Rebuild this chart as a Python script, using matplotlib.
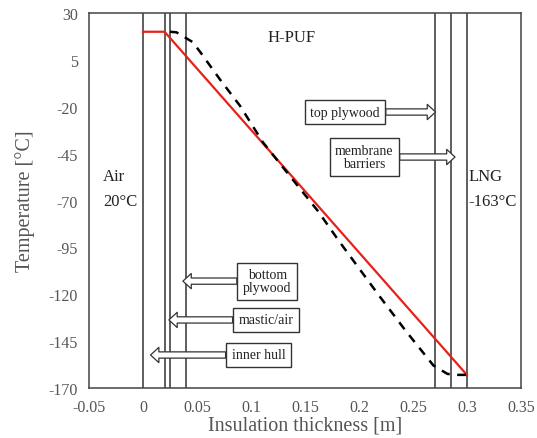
import matplotlib.pyplot as plt

plt.rcParams['font.family'] = ['Liberation Serif', 'DejaVu Serif']
plt.rcParams['axes.unicode_minus'] = False

# layer boundaries [m]
layer_x = [0.0, 0.02, 0.025, 0.04, 0.27, 0.285, 0.30]

# analytic (red) profile
red_x = [0.0, 0.02, 0.30]
red_t = [20, 20, -163]

# measured / simulated (dashed) profile
dash_x = [0.025, 0.031, 0.046, 0.053, 0.071, 0.090, 0.111, 0.136, 0.162,
          0.182, 0.219, 0.244, 0.269, 0.282, 0.292, 0.30]
dash_t = [20, 19.7, 14.5, 9.2, -5.2, -19.6, -38.9, -56.9, -75.6,
          -92, -121, -140, -158, -162.5, -163, -163]

yticks = [30, 5, -20, -45, -70, -95, -120, -145, -170]
xticks = [-0.05, 0, 0.05, 0.1, 0.15, 0.2, 0.25, 0.3, 0.35]

# label text, text position, arrow tip
labels = [
    ("top plywood", (0.187, -22.8), (0.271, -22.8)),
    ("membrane\nbarriers", (0.205, -46.8), (0.289, -46.8)),
    ("bottom\nplywood", (0.115, -113), (0.037, -113)),
    ("mastic/air", (0.114, -133.7), (0.024, -133.7)),
    ("inner hull", (0.107, -152.4), (0.007, -152.4)),
]

fig = plt.figure(figsize=(5.37, 4.39), dpi=100)
ax = fig.add_axes([0.1657, 0.1139, 0.8043, 0.8542])

for xv in layer_x:
    ax.axvline(xv, color='#333333', lw=1.1)

ax.plot(red_x, red_t, color='#e8201a', lw=1.6)
ax.plot(dash_x, dash_t, color='black', lw=1.8, ls=(0, (3.5, 3)))

for txt, pos, tip in labels:
    ax.annotate(txt, xy=tip, xytext=pos, ha='center', va='center', fontsize=10,
                color='#222222', linespacing=1.0,
                bbox=dict(boxstyle='square,pad=0.4', fc='white', ec='#333333', lw=1),
                arrowprops=dict(arrowstyle='simple,head_width=1.1,head_length=0.6,tail_width=0.45',
                                fc='white', ec='#333333', lw=0.9, shrinkA=0, shrinkB=0))

ax.text(0.138, 17, 'H-PUF', ha='center', va='center', fontsize=12, color='#222222')
ax.text(-0.037, -57, 'Air', ha='left', va='center', fontsize=12, color='#222222')
ax.text(-0.037, -70, '20°C', ha='left', va='center', fontsize=12, color='#222222')
ax.text(0.3015, -57, 'LNG', ha='left', va='center', fontsize=12, color='#222222')
ax.text(0.3015, -70, '-163°C', ha='left', va='center', fontsize=12, color='#222222')

ax.set_xlim(-0.05, 0.35)
ax.set_ylim(-170, 30)
ax.set_xticks(xticks)
ax.set_xticklabels(['-0.05', '0', '0.05', '0.1', '0.15', '0.2', '0.25', '0.3', '0.35'])
ax.set_yticks(yticks)
ax.tick_params(length=0, labelsize=11.5, labelcolor='#555555', pad=8)
for s in ax.spines.values():
    s.set_color('#444444')
    s.set_linewidth(1.1)

ax.set_xlabel('Insulation thickness [m]', fontsize=14.5, color='#555555', labelpad=0)
ax.set_ylabel('Temperature [°C]', fontsize=14.5, color='#555555', labelpad=10)

fig.savefig('out.png', dpi=100)
